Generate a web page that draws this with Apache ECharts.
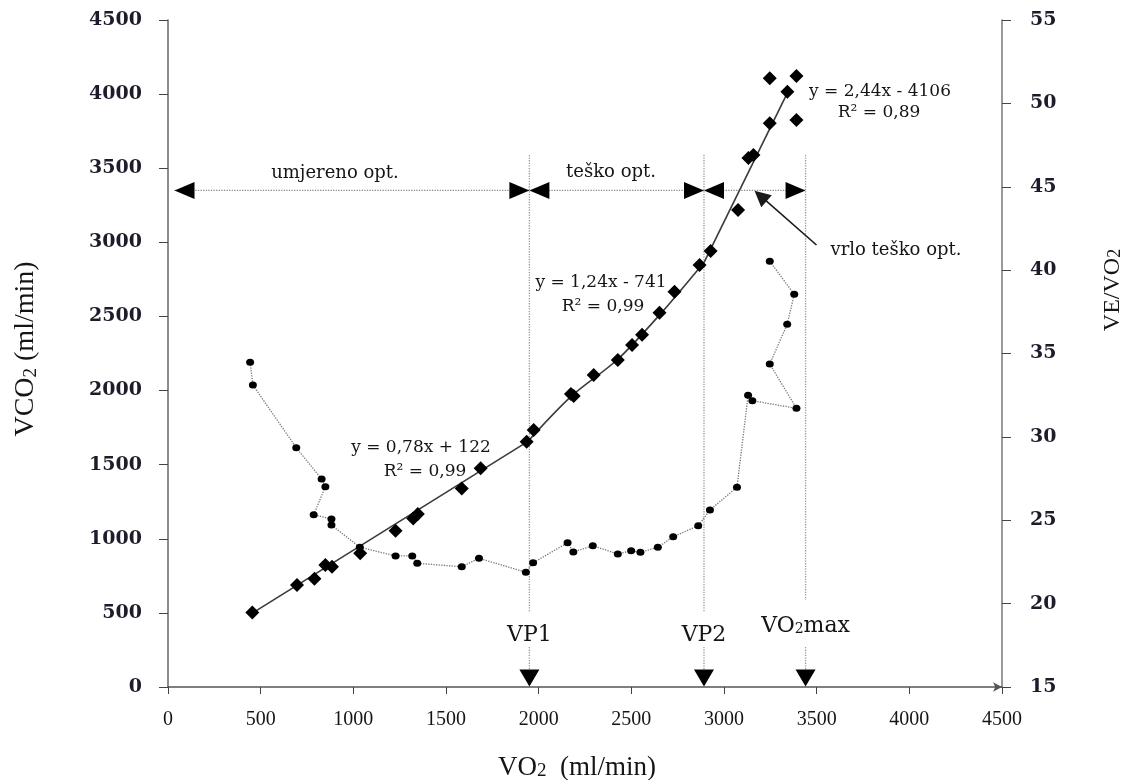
<!DOCTYPE html>
<html><head><meta charset="utf-8">
<script src="https://cdn.jsdelivr.net/npm/echarts/dist/echarts.min.js"></script>
<style>html,body{margin:0;padding:0;background:#fff}#c{width:1128px;height:780px}</style>
</head><body><div id="c"></div>
<script>
// ---- data ----
const vco2Points = [[455,503],[696,688],[790,731],[849,823],[885,812],[1037,902],[1228,1054],[1323,1137],[1348,1167],[1585,1340],[1687,1476],[1935,1655],[1973,1734],[2174,1977],[2189,1963],[2297,2105],[2427,2206],[2504,2307],[2558,2377],[2652,2525],[2733,2667],[2868,2847],[2928,2942],[3076,3218],[3132,3569],[3159,3589],[3247,3803],[3391,3825],[3342,4016],[3247,4107],[3391,4122]];
const veVo2Points = [[443,34.47],[458,33.11],[692,29.35],[829,27.47],[849,27.01],[786,25.33],[882,25.07],[882,24.71],[1035,23.38],[1228,22.86],[1318,22.86],[1345,22.42],[1585,22.21],[1678,22.72],[1931,21.88],[1970,22.45],[2156,23.65],[2187,23.10],[2292,23.47],[2427,22.98],[2499,23.17],[2549,23.08],[2643,23.38],[2726,24.01],[2861,24.67],[2924,25.61],[3070,26.98],[3130,32.49],[3153,32.17],[3391,31.71],[3247,34.37],[3341,36.75],[3379,38.55],[3247,40.53]];
const trendLow = [[453,497],[1940,1655]];
const trendMid = [[1940,1655],[2174,1959],[2427,2211],[2652,2510],[2894,2868]];
const trendHigh = [[2894,2868],[3354,4039]];
const thresholds = [1950, 2892, 3440];
const thresholdNames = ['VP1', 'VP2', 'VO2max'];
const vLineTop = 3590;
const vLineBreakEnd = [506, 506, 587];
const vLineResume = 270;
const zoneStart = 35;
const zoneLevel = 3350;
const zoneNames = ['umjereno opt.', 'teško opt.', 'vrlo teško opt.'];
const calloutLine = [[3499,2982],[3197,3313]];
const equations = ['y = 0,78x + 122', 'R² = 0,99', 'y = 1,24x - 741', 'R² = 0,99', 'y = 2,44x - 4106', 'R² = 0,89'];
const xTicks = {min:0, max:4500, step:500};
const yLeftTicks = {min:0, max:4500, step:500};
const yRightTicks = {min:15, max:55, step:5};

// ---- build helpers ----
const vLineData = [];
thresholds.forEach((t, i) => {
  vLineData.push([t, vLineTop], [t, vLineBreakEnd[i]], [t, '-'], [t, vLineResume], [t, 60], [t, '-']);
});
const arrowItems = [];
[zoneStart, thresholds[0], thresholds[1]].forEach(x => arrowItems.push({value:[x, zoneLevel], symbolRotate:90, symbolOffset:[10,0]}));
thresholds.forEach(x => arrowItems.push({value:[x, zoneLevel], symbolRotate:-90, symbolOffset:[-10,0]}));
const downArrows = thresholds.map(x => ({value:[x, 0]}));
const labelItems = thresholds.map((x, i) => ({value:[x, 0], name: thresholdNames[i],
  label:{offset:[0, i === 2 ? -50 : -41]}}));

const serif = 'DejaVu Serif';
const tserif = 'Liberation Serif';
const txtColor = '#151515';
const plain = v => String(v);

const chart = echarts.init(document.getElementById('c'), null, {renderer:'canvas'});
chart.setOption({
  backgroundColor:'#fff',
  animation:false,
  grid:{left:168, right:126, top:20, bottom:93},
  xAxis:{type:'value', min:xTicks.min, max:xTicks.max, interval:xTicks.step,
    splitLine:{show:false},
    axisLine:{lineStyle:{color:'#555', width:1.5}, symbol:['none','arrow'], symbolSize:[7,9]},
    axisTick:{show:true, length:7, lineStyle:{color:'#444'}},
    axisLabel:{fontFamily:tserif, fontSize:20, color:txtColor, margin:23, formatter:plain}},
  yAxis:[
    {type:'value', min:yLeftTicks.min, max:yLeftTicks.max, interval:yLeftTicks.step, position:'left',
      splitLine:{show:false},
      axisLine:{show:true, lineStyle:{color:'#666', width:1.5}},
      axisTick:{show:true, length:9, lineStyle:{color:'#444'}},
      axisLabel:{fontFamily:serif, fontSize:19, fontWeight:'bold', color:'#1c1c2a', margin:26, formatter:plain}},
    {type:'value', min:yRightTicks.min, max:yRightTicks.max, interval:yRightTicks.step, position:'right',
      splitLine:{show:false},
      axisLine:{show:true, lineStyle:{color:'#777', width:1.5}},
      axisTick:{show:true, length:9, lineStyle:{color:'#444'}},
      axisLabel:{fontFamily:serif, fontSize:19, fontWeight:'bold', color:'#1c1c2a', margin:28, formatter:plain}}
  ],
  series:[
    {type:'line', data:vLineData, symbol:'none', connectNulls:false, silent:true,
      lineStyle:{type:'dotted', color:'#999', width:1.3}, z:1},
    {type:'line', data:[[zoneStart, zoneLevel],[thresholds[2], zoneLevel]], symbol:'none', silent:true,
      lineStyle:{type:'dotted', color:'#888', width:1.3}, z:1},
    {type:'line', data:trendLow, symbol:'none', lineStyle:{color:'#3a3a3a', width:1.6}, z:2},
    {type:'line', data:trendMid, symbol:'none', smooth:0.3, lineStyle:{color:'#3a3a3a', width:1.6}, z:2},
    {type:'line', data:trendHigh, symbol:'none', lineStyle:{color:'#3a3a3a', width:1.6}, z:2},
    {type:'scatter', data:vco2Points, symbol:'diamond', symbolSize:14, itemStyle:{color:'#000', opacity:1}, z:4},
    {type:'line', yAxisIndex:1, data:veVo2Points, symbol:'circle', symbolSize:[8,7], showAllSymbol:true,
      itemStyle:{color:'#000', opacity:1}, lineStyle:{type:'dotted', color:'#777', width:1.3}, z:3},
    {type:'scatter', data:arrowItems, symbol:'triangle', symbolSize:[17,20], itemStyle:{color:'#000', opacity:1}, z:5},
    {type:'scatter', data:downArrows, symbol:'triangle', symbolSize:[20,17], symbolRotate:180, symbolOffset:[0,-9],
      itemStyle:{color:'#000', opacity:1}, z:5},
    {type:'scatter', data:labelItems, symbolSize:0, z:5, itemStyle:{opacity:1},
      label:{show:true, position:'top', distance:0, color:txtColor, fontFamily:serif, fontSize:22,
        formatter: p => p.name === 'VO2max' ? '{a|VO}{s|2}{a|max}' : p.name,
        rich:{a:{fontFamily:serif, fontSize:22, color:txtColor}, s:{fontFamily:serif, fontSize:14, color:txtColor, padding:[6,0,0,0]}}}},
    {type:'lines', coordinateSystem:'cartesian2d', data:[{coords:calloutLine}],
      symbol:['none','triangle'], symbolSize:16, lineStyle:{color:'#1a1a1a', width:1.6, opacity:1},
      itemStyle:{color:'#000'}, z:5}
  ],
  graphic:[
    {type:'text', x:335, y:173, style:{text:zoneNames[0], font:'18px "DejaVu Serif"', fill:txtColor, align:'center', verticalAlign:'middle'}},
    {type:'text', x:611, y:172, style:{text:zoneNames[1], font:'18px "DejaVu Serif"', fill:txtColor, align:'center', verticalAlign:'middle'}},
    {type:'text', x:896, y:250, style:{text:zoneNames[2], font:'18px "DejaVu Serif"', fill:txtColor, align:'center', verticalAlign:'middle'}},
    {type:'text', x:421, y:448, style:{text:equations[0], font:'17px "DejaVu Serif"', fill:txtColor, align:'center', verticalAlign:'middle'}},
    {type:'text', x:425, y:472, style:{text:equations[1], font:'17px "DejaVu Serif"', fill:txtColor, align:'center', verticalAlign:'middle'}},
    {type:'text', x:601, y:283, style:{text:equations[2], font:'17px "DejaVu Serif"', fill:txtColor, align:'center', verticalAlign:'middle'}},
    {type:'text', x:603, y:307, style:{text:equations[3], font:'17px "DejaVu Serif"', fill:txtColor, align:'center', verticalAlign:'middle'}},
    {type:'text', x:880, y:92, style:{text:equations[4], font:'17px "DejaVu Serif"', fill:txtColor, align:'center', verticalAlign:'middle'}},
    {type:'text', x:879, y:113, style:{text:equations[5], font:'17px "DejaVu Serif"', fill:txtColor, align:'center', verticalAlign:'middle'}},
    {type:'text', x:26, y:349, rotation:Math.PI/2, style:{text:'{a|VCO}{s|2}{a| (ml/min)}', align:'center', verticalAlign:'middle',
      rich:{a:{fontFamily:tserif, fontSize:28, fill:txtColor}, s:{fontFamily:tserif, fontSize:19, fill:txtColor, padding:[10,0,0,0]}}}},
    {type:'text', x:1113, y:290, rotation:Math.PI/2, style:{text:'{a|VE/VO}{s|2}', align:'center', verticalAlign:'middle',
      rich:{a:{fontFamily:tserif, fontSize:24, fill:txtColor}, s:{fontFamily:tserif, fontSize:18, fill:txtColor, padding:[4,0,0,0]}}}},
    {type:'text', x:577, y:768, style:{text:'{a|VO}{s|2}{a|  (ml/min)}', align:'center', verticalAlign:'middle',
      rich:{a:{fontFamily:tserif, fontSize:27, fill:txtColor}, s:{fontFamily:tserif, fontSize:19, fill:txtColor, padding:[6,0,0,0]}}}}
  ]
});
</script>
</body></html>
